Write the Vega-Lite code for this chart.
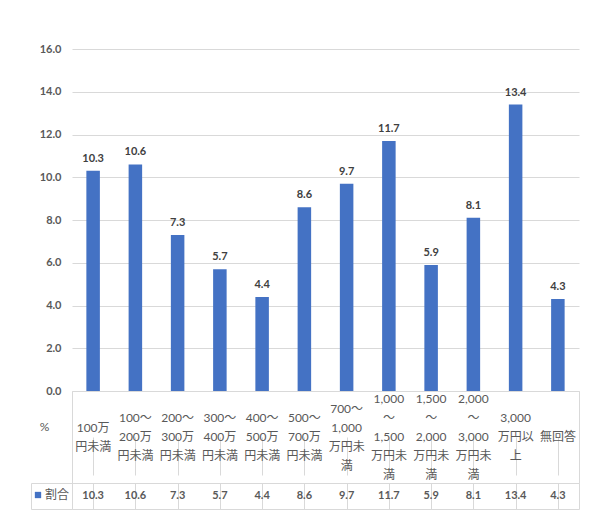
{
  "$schema": "https://vega.github.io/schema/vega-lite/v6.json",
  "background": "white",
  "padding": {"left": 30, "top": 43, "right": 0, "bottom": 0},
  "config": {
    "font": "Lato, Noto Sans CJK JP",
    "view": {"stroke": null},
    "text": {"font": "Lato, Noto Sans CJK JP"}
  },
  "datasets": {
    "d": [
      {"区分": "100万円未満", "表示": "100万\n円未満", "割合": 10.3, "系列": "割合"},
      {"区分": "100～200万円未満", "表示": "100～\n200万\n円未満", "割合": 10.6, "系列": "割合"},
      {"区分": "200～300万円未満", "表示": "200～\n300万\n円未満", "割合": 7.3, "系列": "割合"},
      {"区分": "300～400万円未満", "表示": "300～\n400万\n円未満", "割合": 5.7, "系列": "割合"},
      {"区分": "400～500万円未満", "表示": "400～\n500万\n円未満", "割合": 4.4, "系列": "割合"},
      {"区分": "500～700万円未満", "表示": "500～\n700万\n円未満", "割合": 8.6, "系列": "割合"},
      {"区分": "700～1,000万円未満", "表示": "700～\n1,000\n万円未\n満", "割合": 9.7, "系列": "割合"},
      {"区分": "1,000～1,500万円未満", "表示": "1,000\n～\n1,500\n万円未\n満", "割合": 11.7, "系列": "割合"},
      {"区分": "1,500～2,000万円未満", "表示": "1,500\n～\n2,000\n万円未\n満", "割合": 5.9, "系列": "割合"},
      {"区分": "2,000～3,000万円未満", "表示": "2,000\n～\n3,000\n万円未\n満", "割合": 8.1, "系列": "割合"},
      {"区分": "3,000万円以上", "表示": "3,000\n万円以\n上", "割合": 13.4, "系列": "割合"},
      {"区分": "無回答", "表示": "無回答", "割合": 4.3, "系列": "割合"}
    ]
  },
  "columns": 2,
  "spacing": 0,
  "bounds": "flush",
  "align": "each",
  "concat": [
    {
      "width": 41, "height": 342,
      "data": {"values": [{}]},
      "mark": {"type": "text"},
      "encoding": {"text": {"value": ""}}
    },
    {
      "width": 507, "height": 342,
      "data": {"name": "d"},
      "encoding": {
        "x": {"field": "区分", "type": "nominal", "sort": null,
              "scale": {"paddingInner": 0, "paddingOuter": 0}, "axis": null},
        "y": {"field": "割合", "type": "quantitative",
              "scale": {"domain": [0, 16], "nice": false},
              "axis": {"title": null, "values": [0, 2, 4, 6, 8, 10, 12, 14, 16], "format": ".1f",
                       "domain": false, "ticks": false, "labelPadding": 11,
                       "labelFont": "Lato", "labelFontSize": 11, "labelFontWeight": "bold", "labelColor": "#595959",
                       "gridColor": "#D9D9D9", "gridWidth": 1}}
      },
      "layer": [
        {
          "mark": {"type": "bar", "width": {"band": 0.32}},
          "encoding": {
            "color": {"field": "系列", "type": "nominal",
                      "scale": {"range": ["#4472C4"]},
                      "legend": {"title": null, "orient": "none", "legendX": 1, "legendY": 440,
                                 "symbolType": "square", "symbolSize": 40, "symbolStrokeWidth": 0,
                                 "labelFont": "Noto Sans CJK JP", "labelFontSize": 12, "labelColor": "#595959",
                                 "labelOffset": 1, "padding": 0}}
          }
        },
        {
          "mark": {"type": "text", "baseline": "bottom", "dy": -7, "fontSize": 11, "fontWeight": "bold", "color": "#404040", "font": "Lato"},
          "encoding": {"text": {"field": "割合", "type": "quantitative", "format": ".1f"}}
        }
      ]
    },
    {
      "width": 41, "height": 92,
      "data": {"values": [{"見出し": "%"}]},
      "mark": {"type": "text", "dx": -7, "dy": -10, "fontSize": 12, "color": "#595959", "font": "Lato"},
      "encoding": {"text": {"field": "見出し", "type": "nominal"}}
    },
    {
      "width": 507, "height": 92,
      "view": {"stroke": "#D9D9D9"},
      "data": {"name": "d"},
      "transform": [
        {"calculate": "length(split(datum['表示'], '\\n'))", "as": "行数"}
      ],
      "mark": {"type": "text", "fontSize": 12, "color": "#595959", "lineBreak": "\n", "lineHeight": 19, "baseline": "middle"},
      "encoding": {
        "x": {"field": "区分", "type": "nominal", "sort": null,
              "scale": {"paddingInner": 0, "paddingOuter": 0},
              "axis": {"title": null, "labels": false, "ticks": false, "domain": false, "grid": true,
                       "bandPosition": 0, "gridColor": "#D9D9D9"}},
        "y": {"field": "行数", "type": "quantitative",
              "scale": {"domain": [1, 5], "range": [46, 8], "nice": false, "zero": false},
              "axis": null},
        "text": {"field": "表示", "type": "nominal"}
      }
    },
    {
      "width": 41, "height": 26,
      "view": {"stroke": "#D9D9D9"},
      "data": {"values": [{}]},
      "mark": {"type": "text"},
      "encoding": {"text": {"value": ""}}
    },
    {
      "width": 507, "height": 26,
      "view": {"stroke": "#D9D9D9"},
      "data": {"name": "d"},
      "mark": {"type": "text", "fontSize": 11, "fontWeight": "bold", "color": "#595959", "font": "Lato"},
      "encoding": {
        "x": {"field": "区分", "type": "nominal", "sort": null,
              "scale": {"paddingInner": 0, "paddingOuter": 0},
              "axis": {"title": null, "labels": false, "ticks": false, "domain": false, "grid": true,
                       "bandPosition": 0, "gridColor": "#D9D9D9"}},
        "text": {"field": "割合", "type": "quantitative", "format": ".1f"}
      }
    }
  ]
}
